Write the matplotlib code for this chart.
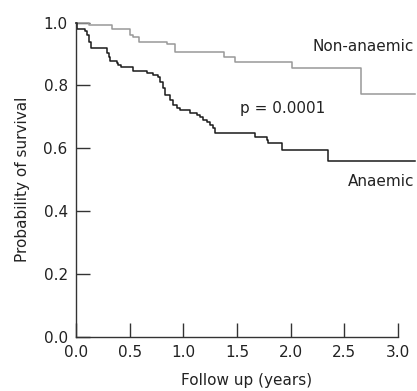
import matplotlib
matplotlib.use("Agg")
import matplotlib.pyplot as plt

# Non-anaemic group (step times in years, survival after step)
non_times = [0.0, 0.124, 0.333, 0.503, 0.534, 0.59, 0.845, 0.923, 1.378, 1.48, 2.013, 2.653, 3.16]
non_surv = [1.0, 0.993, 0.979, 0.961, 0.954, 0.940, 0.931, 0.907, 0.891, 0.875, 0.855, 0.773, 0.773]

# Anaemic group
an_times = [0.0, 0.01, 0.08, 0.105, 0.124, 0.137, 0.286, 0.31, 0.317, 0.379, 0.394, 0.416,
            0.534, 0.659, 0.72, 0.767, 0.783, 0.808, 0.83, 0.876, 0.907, 0.938, 0.969,
            1.06, 1.125, 1.156, 1.187, 1.218, 1.249, 1.28, 1.295, 1.668, 1.777, 1.793,
            1.917, 2.351, 3.16]
an_surv = [1.0, 0.979, 0.972, 0.961, 0.940, 0.919, 0.903, 0.892, 0.878, 0.872, 0.866, 0.860,
           0.846, 0.839, 0.834, 0.826, 0.812, 0.791, 0.770, 0.754, 0.738, 0.728, 0.722,
           0.712, 0.706, 0.700, 0.690, 0.685, 0.674, 0.664, 0.648, 0.637, 0.627, 0.618,
           0.593, 0.561, 0.561]

x_ticks = [0.0, 0.5, 1.0, 1.5, 2.0, 2.5, 3.0]
y_ticks = [0.0, 0.2, 0.4, 0.6, 0.8, 1.0]

plt.rcParams['font.family'] = ['DejaVu Sans']

fig = plt.figure(figsize=(4.17, 3.91), dpi=100)
ax = fig.add_axes([0.1823, 0.1389, 0.8156, 0.8031])

ax.step(non_times, non_surv, where='post', color='#999999', lw=1.1, clip_on=False)
ax.step(an_times, an_surv, where='post', color='#1a1a1a', lw=1.1, clip_on=False)

ax.set_xlim(0, 3.17)
ax.set_ylim(0, 1.0)
ax.set_xticks(x_ticks)
ax.set_xticklabels([f"{v:.1f}" for v in x_ticks])
ax.set_yticks(y_ticks)
ax.set_yticklabels([f"{v:.1f}" for v in y_ticks])

for s in ['top', 'right']:
    ax.spines[s].set_visible(False)
ax.spines['bottom'].set_bounds(0, 3.0)
for s in ['left', 'bottom']:
    ax.spines[s].set_color('#333333')
    ax.spines[s].set_linewidth(1.0)

ax.tick_params(direction='in', length=10, width=1.0, color='#333333',
               labelsize=11, pad=6, labelcolor='#222222')

ax.set_xlabel("Follow up (years)", fontsize=11, color='#222222', labelpad=9)
ax.set_ylabel("Probability of survival", fontsize=11, color='#222222', labelpad=10)

ax.text(3.15, 0.923, "Non-anaemic", ha='right', va='center', fontsize=11, color='#222222')
ax.text(1.53, 0.728, "p = 0.0001", ha='left', va='center', fontsize=11, color='#222222')
ax.text(3.15, 0.494, "Anaemic", ha='right', va='center', fontsize=11, color='#222222')

fig.savefig("out.png", dpi=100)
